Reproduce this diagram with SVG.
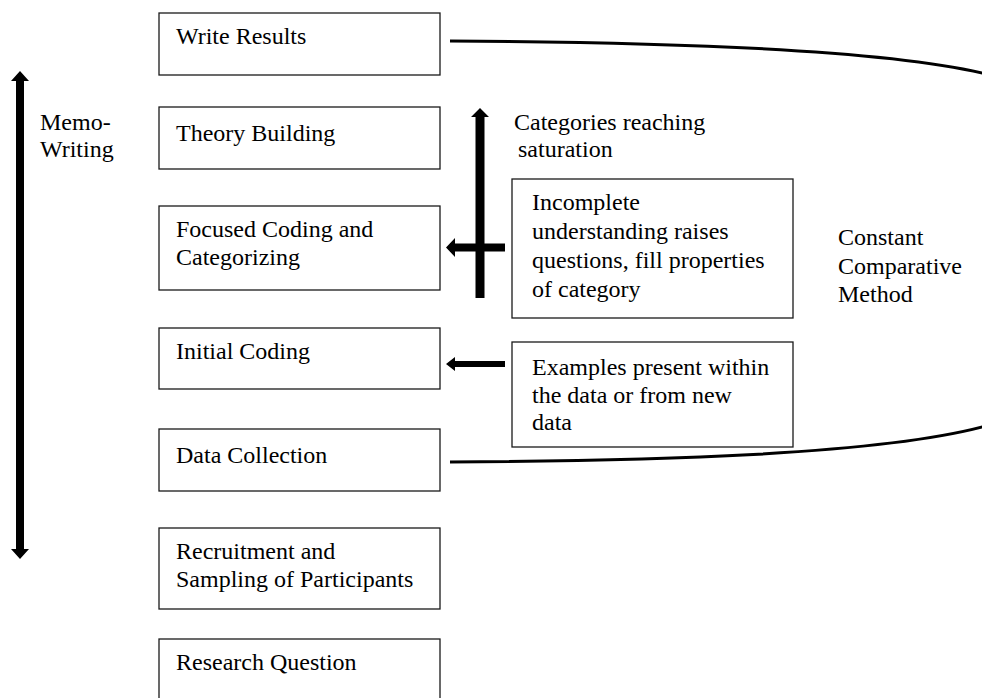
<svg xmlns="http://www.w3.org/2000/svg" width="982" height="698" viewBox="0 0 982 698">
  <style>
    .box { fill: #fff; stroke: #1a1a1a; stroke-width: 1.3; }
    .lbl { font-family: "Liberation Serif", "Times New Roman", serif; font-size: 24px; fill: #000; }
    .curve { fill: none; stroke: #000; stroke-width: 3; }
    .bar { fill: #000; }
  </style>
  <rect width="982" height="698" fill="#fff"/>

  <!-- connectors: arrows and the comparison bracket -->
  <g id="connectors">
    <!-- memo-writing double arrow -->
    <polygon class="bar" points="20,71 29,81 24,81 24,549 29,549 20,559 11,549 16,549 16,81 11,81"/>
    <!-- categories reaching saturation (up) -->
    <polygon class="bar" points="480,108 489,117 484.5,117 484.5,298 475.5,298 475.5,117 471,117"/>
    <!-- into focused coding -->
    <polygon class="bar" points="446,247.5 455,238 455,243.5 505,243.5 505,251.5 455,251.5 455,257"/>
    <!-- into initial coding -->
    <polygon class="bar" points="446,364 455,357 455,361 505,361 505,367 455,367 455,371"/>
    <!-- constant comparative bracket -->
    <path class="curve" d="M450,41 C650,42 880,48 986,74"/>
    <path class="curve" d="M450,462 C650,461 880,455 986,426"/>
  </g>

  <g id="write-results">
    <rect class="box" x="159" y="13" width="281" height="62"/>
    <text class="lbl" x="176" y="44">Write Results</text>
  </g>
  <g id="theory-building">
    <rect class="box" x="159" y="107" width="281" height="62"/>
    <text class="lbl" x="176" y="141">Theory Building</text>
  </g>
  <g id="focused-coding">
    <rect class="box" x="159" y="206" width="281" height="84"/>
    <text class="lbl" x="176" y="237">Focused Coding and</text>
    <text class="lbl" x="176" y="265">Categorizing</text>
  </g>
  <g id="initial-coding">
    <rect class="box" x="159" y="328" width="281" height="61"/>
    <text class="lbl" x="176" y="359">Initial Coding</text>
  </g>
  <g id="data-collection">
    <rect class="box" x="159" y="429" width="281" height="62"/>
    <text class="lbl" x="176" y="463">Data Collection</text>
  </g>
  <g id="recruitment">
    <rect class="box" x="159" y="528" width="281" height="81"/>
    <text class="lbl" x="176" y="559">Recruitment and</text>
    <text class="lbl" x="176" y="587">Sampling of Participants</text>
  </g>
  <g id="research-question">
    <rect class="box" x="159" y="639" width="281" height="80"/>
    <text class="lbl" x="176" y="670">Research Question</text>
  </g>

  <g id="memo-writing">
    <text class="lbl" x="40" y="130">Memo-</text>
    <text class="lbl" x="40" y="157">Writing</text>
  </g>
  <g id="saturation">
    <text class="lbl" x="514" y="130">Categories reaching</text>
    <text class="lbl" x="518" y="157">saturation</text>
  </g>
  <g id="incomplete-understanding">
    <rect class="box" x="512" y="179" width="281" height="139"/>
    <text class="lbl" x="532" y="210">Incomplete</text>
    <text class="lbl" x="532" y="239">understanding raises</text>
    <text class="lbl" x="532" y="268">questions, fill properties</text>
    <text class="lbl" x="532" y="297">of category</text>
  </g>
  <g id="examples">
    <rect class="box" x="512" y="342" width="281" height="105"/>
    <text class="lbl" x="532" y="375">Examples present within</text>
    <text class="lbl" x="532" y="403">the data or from new</text>
    <text class="lbl" x="532" y="430">data</text>
  </g>
  <g id="constant-comparative">
    <text class="lbl" x="838" y="245">Constant</text>
    <text class="lbl" x="838" y="274">Comparative</text>
    <text class="lbl" x="838" y="302">Method</text>
  </g>
</svg>
